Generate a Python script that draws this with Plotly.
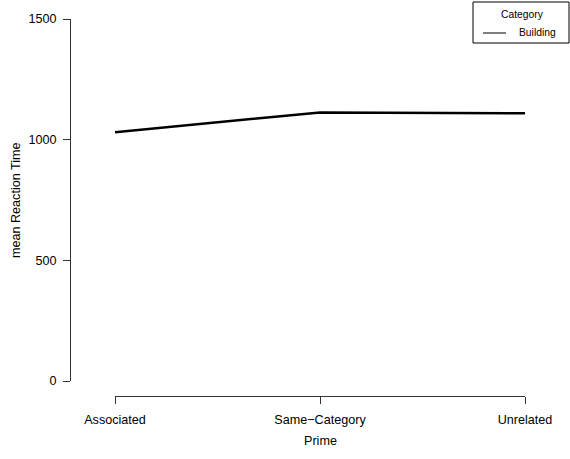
import plotly.graph_objects as go

# Mean reaction time by prime type, for the "Building" category
prime_levels = ["Associated", "Same\u2212Category", "Unrelated"]
building_rt = [1031, 1113, 1109]
y_ticks = [0, 500, 1000, 1500]
legend_title = "Category"
series_name = "Building"

W, H = 570, 459
FONT = "Liberation Sans, Arial, Helvetica, sans-serif"
AXIS_COL = "#333333"
LABEL_SIZE = 12.6
LEGEND_SIZE = 10.3


def px_x(p):
    return p / W


def px_y(p):
    return (H - p) / H


x_pos = list(range(1, len(prime_levels) + 1))

fig = go.Figure()
fig.add_trace(go.Scatter(
    x=x_pos, y=building_rt, mode="lines", name=series_name,
    line=dict(color="black", width=2.5), showlegend=False,
))

fig.update_layout(
    width=W, height=H,
    margin=dict(l=0, r=0, t=0, b=0, autoexpand=False),
    paper_bgcolor="white", plot_bgcolor="white",
    font=dict(family=FONT, size=LABEL_SIZE, color="black"),
    xaxis=dict(
        domain=[px_x(115), px_x(525)],
        range=[x_pos[0], x_pos[-1]],
        anchor="free", position=px_y(396),
        tickmode="array", tickvals=x_pos, ticktext=prime_levels,
        ticks="outside", ticklen=7, tickcolor=AXIS_COL, tickwidth=1,
        showline=True, linecolor=AXIS_COL, linewidth=1,
        showgrid=False, zeroline=False, automargin=False,
        tickfont=dict(size=LABEL_SIZE, color="black"),
        ticklabelstandoff=5,
    ),
    yaxis=dict(
        domain=[px_y(381), px_y(19)],
        range=[y_ticks[0], y_ticks[-1]],
        anchor="free", position=px_x(70),
        tickmode="array", tickvals=y_ticks,
        ticks="outside", ticklen=7, tickcolor=AXIS_COL, tickwidth=1,
        showline=True, linecolor=AXIS_COL, linewidth=1,
        showgrid=False, zeroline=False, automargin=False,
        tickfont=dict(size=LABEL_SIZE, color="black"),
        ticklabelstandoff=4,
    ),
)

# Axis titles
fig.add_annotation(text="Prime", xref="paper", yref="paper",
                   x=px_x(320), y=px_y(441), showarrow=False,
                   xanchor="center", yanchor="middle",
                   font=dict(size=LABEL_SIZE))
fig.add_annotation(text="mean Reaction Time", xref="paper", yref="paper",
                   x=px_x(16), y=px_y(200), showarrow=False, textangle=-90,
                   xanchor="center", yanchor="middle",
                   font=dict(size=LABEL_SIZE))

# Legend box in the top-right corner
fig.add_shape(type="rect", xref="paper", yref="paper",
              x0=px_x(473), x1=px_x(569), y0=px_y(43), y1=px_y(2),
              line=dict(color="black", width=1), fillcolor="rgba(0,0,0,0)")
fig.add_shape(type="line", xref="paper", yref="paper",
              x0=px_x(483), x1=px_x(506), y0=px_y(33), y1=px_y(33),
              line=dict(color="black", width=1))
fig.add_annotation(text=legend_title, xref="paper", yref="paper",
                   x=px_x(522), y=px_y(15), showarrow=False,
                   xanchor="center", yanchor="middle",
                   font=dict(size=LEGEND_SIZE))
fig.add_annotation(text=series_name, xref="paper", yref="paper",
                   x=px_x(517), y=px_y(33), showarrow=False,
                   xanchor="left", yanchor="middle",
                   font=dict(size=LEGEND_SIZE))

fig.write_html("out.html")
